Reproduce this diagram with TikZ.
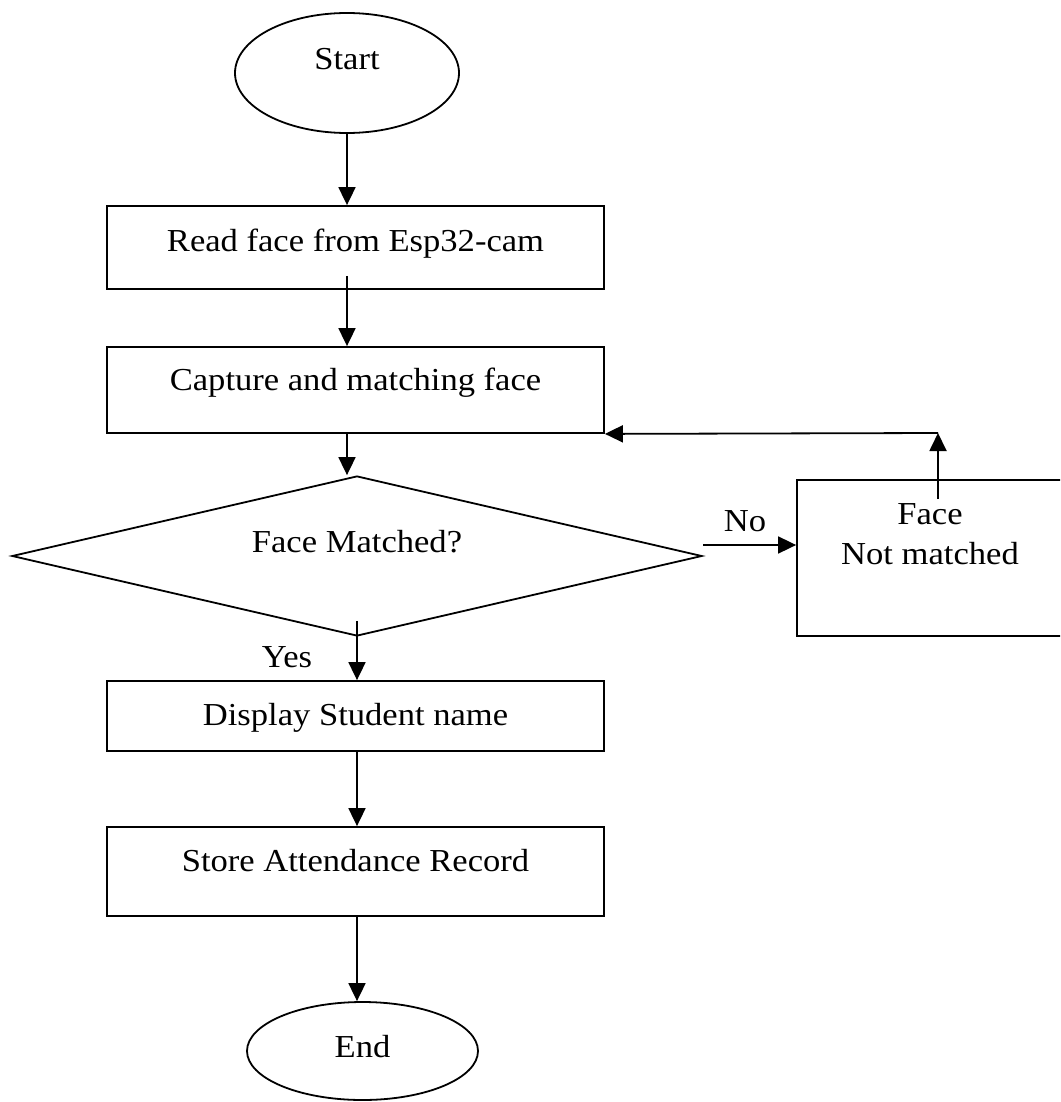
\documentclass[tikz,border=0pt]{standalone}
\usepackage{fontspec}
\setmainfont{Liberation Serif}
\usetikzlibrary{shapes.geometric,arrows.meta}
\newcommand{\tx}[2]{\raisebox{#1}[0pt][0pt]{\scalebox{1.08}[1]{#2}}}
\begin{document}
\begin{tikzpicture}[x=1pt,y=-1pt,
  every node/.style={font=\fontsize{32}{40}\selectfont, line width=1.8pt},
  procbox/.style={draw, rectangle, inner sep=0pt, minimum width=497pt},
  termbox/.style={draw, ellipse, inner sep=0pt},
  arr/.style={line width=1.8pt, -{Triangle[length=18pt,width=17pt]}}]
\clip (0,0) rectangle (1060,1102);
\fill[white] (0,0) rectangle (1060,1102);

\node[termbox, minimum width=224pt, minimum height=120pt] (s) at (347,73) {\tx{3pt}{Start}};
\node[procbox, minimum height=83pt] (b1) at (355.5,247.5) {\tx{-3.5pt}{Read face from Esp32-cam}};
\node[procbox, minimum height=86pt] (b2) at (355.5,390) {\tx{0pt}{Capture and matching face}};
\node[draw, diamond, aspect=4.3, minimum width=690pt, minimum height=160pt, inner sep=0pt] (d) at (357,556) {\tx{4pt}{Face Matched?}};
\node[procbox, minimum height=70pt] (b3) at (355.5,716) {\tx{-9pt}{Display Student name}};
\node[procbox, minimum height=89pt] (b4) at (355.5,871.5) {\tx{0pt}{Store Attendance Record}};
\node[termbox, minimum width=231pt, minimum height=98pt] (e) at (362.5,1051) {\tx{-6pt}{End}};
\node[draw, rectangle, minimum width=266pt, minimum height=156pt, inner sep=0pt] (nm) at (930,558)
  {\tx{-6pt}{\begin{tabular}[b]{@{}c@{}}Face\\Not matched\end{tabular}}};

\node[anchor=base, inner sep=0pt] (no) at (745,531) {\scalebox{1.08}[1]{No}};
\node[anchor=base, inner sep=0pt] (yes) at (287,667) {\scalebox{1.08}[1]{Yes}};

\coordinate (nofrom) at (703,545);
\coordinate (fbs) at (938,499);
\coordinate (fb) at (938,433);

\draw[arr] (s.south) -- (b1.north -| s.south);
\draw[arr] ([yshift=14pt]b1.south -| s.south) -- (b2.north -| s.south);
\draw[arr] (b2.south -| s.south) -- (d.north -| s.south);
\draw[arr] ([yshift=16pt]d.south) -- (b3.north -| d.south);
\draw[arr] (b3.south -| d.south) -- (b4.north -| d.south);
\draw[arr] (b4.south -| d.south) -- (e.north -| d.south);
\draw[arr] (nofrom) -- (nofrom -| nm.west);
\draw[arr] (fbs) -- (fb);
\draw[arr] (fb) -- (b2.south east);
\end{tikzpicture}
\end{document}
